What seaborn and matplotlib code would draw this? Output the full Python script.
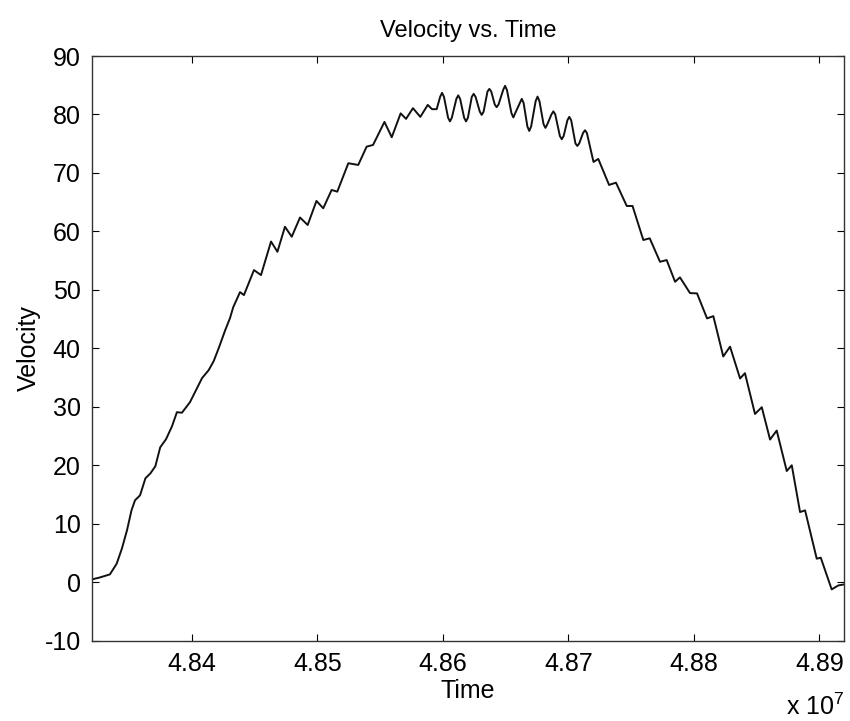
import numpy as np
import pandas as pd
import matplotlib
matplotlib.use("Agg")
import matplotlib.pyplot as plt
import seaborn as sns

# Time values in units of 1e7
time = [4.83203, 4.83267, 4.83346, 4.83400, 4.83442, 4.83482, 4.83518, 4.83546,
        4.83586, 4.83629, 4.83669, 4.83708, 4.83747, 4.83793, 4.83841, 4.83880,
        4.83920, 4.83984, 4.84040, 4.84080, 4.84133, 4.84173, 4.84213, 4.84265,
        4.84303, 4.84329, 4.84383, 4.84414, 4.84494, 4.84550, 4.84630, 4.84681,
        4.84741, 4.84795, 4.84861, 4.84922, 4.84992, 4.85046, 4.85113, 4.85158,
        4.85246, 4.85325, 4.85392, 4.85443, 4.85534, 4.85592, 4.85663, 4.85706,
        4.85761, 4.85820, 4.85879, 4.85913, 4.85950,
        4.85978, 4.85993, 4.86008, 4.86041, 4.86056, 4.86071,
        4.86107, 4.86122, 4.86137, 4.86169, 4.86184, 4.86199,
        4.86230, 4.86245, 4.86260, 4.86294, 4.86309, 4.86324,
        4.86355, 4.86370, 4.86385, 4.86413, 4.86428, 4.86443,
        4.86480, 4.86495, 4.86510, 4.86546, 4.86561, 4.86576,
        4.86613, 4.86628, 4.86643, 4.86673, 4.86688, 4.86703,
        4.86739, 4.86754, 4.86769, 4.86802, 4.86817, 4.86832,
        4.86865, 4.86880, 4.86895, 4.86932, 4.86947, 4.86962,
        4.86992, 4.87007, 4.87022, 4.87056, 4.87071, 4.87086,
        4.87117, 4.87132, 4.87147,
        4.87200, 4.87238, 4.87324, 4.87379, 4.87465, 4.87511, 4.87597, 4.87648,
        4.87730, 4.87783, 4.87850, 4.87889, 4.87969, 4.88025, 4.88105, 4.88155,
        4.88234, 4.88288, 4.88368, 4.88407, 4.88487, 4.88541, 4.88607, 4.88660,
        4.88740, 4.88780, 4.88846, 4.88886, 4.88979, 4.89011, 4.89098, 4.89151,
        4.89196]

velocity = [0.48, 0.82, 1.34, 3.17, 5.79, 8.87, 12.29, 14.01,
            14.86, 17.77, 18.63, 19.83, 23.08, 24.45, 26.68, 29.08,
            28.99, 30.79, 33.18, 34.90, 36.27, 37.81, 40.03, 43.12,
            45.17, 47.05, 49.62, 49.11, 53.39, 52.53, 58.27, 56.52,
            60.80, 59.09, 62.38, 61.10, 65.21, 63.96, 67.09, 66.80,
            71.66, 71.37, 74.50, 74.79, 78.73, 76.11, 80.19, 79.25,
            81.08, 79.59, 81.64, 80.91, 80.91,
            83.04, 83.70, 83.04, 79.45, 78.82, 79.45,
            82.67, 83.27, 82.67, 79.44, 78.82, 79.44,
            83.02, 83.53, 83.02, 80.47, 79.93, 80.47,
            83.92, 84.38, 83.92, 81.71, 81.25, 81.71,
            84.20, 84.90, 84.20, 80.23, 79.50, 80.23,
            81.97, 82.67, 81.97, 77.95, 77.19, 77.95,
            82.30, 83.06, 82.30, 78.33, 77.71, 78.33,
            80.02, 80.53, 80.02, 76.31, 75.77, 76.31,
            79.02, 79.59, 79.02, 75.05, 74.62, 75.05,
            76.85, 77.31, 76.85,
            71.88, 72.40, 67.95, 68.34, 64.35, 64.35, 58.53, 58.82,
            54.81, 55.10, 51.39, 52.14, 49.45, 49.40, 45.12, 45.51,
            38.61, 40.29, 34.85, 35.75, 28.78, 29.93, 24.40, 25.94,
            19.02, 20.00, 12.00, 12.29, 4.02, 4.20, -1.23, -0.55,
            -0.38]

x_ticks = [4.84, 4.85, 4.86, 4.87, 4.88, 4.89]
x_tick_labels = ["4.84", "4.85", "4.86", "4.87", "4.88", "4.89"]
y_ticks = [-10, 0, 10, 20, 30, 40, 50, 60, 70, 80, 90]

df = pd.DataFrame({"Time": time, "Velocity": velocity})

sns.set_theme(style="white")
plt.rcParams["font.family"] = ["Liberation Sans", "DejaVu Sans"]
plt.rcParams["mathtext.fontset"] = "custom"
plt.rcParams["mathtext.rm"] = "Liberation Sans"
plt.rcParams["axes.unicode_minus"] = False
plt.rcParams["text.color"] = "black"

fig = plt.figure(figsize=(8.5, 7.21), dpi=100)
ax = fig.add_axes([0.1082, 0.1114, 0.8847, 0.8109])

sns.lineplot(data=df, x="Time", y="Velocity", ax=ax, color="#111111",
             linewidth=1.4, estimator=None, sort=False)
for ln in ax.get_lines():
    ln.set_solid_joinstyle("round")

ax.set_xlim(time[0], time[-1])
ax.set_ylim(-10, 90)
ax.set_xticks(x_ticks)
ax.set_xticklabels(x_tick_labels)
ax.set_yticks(y_ticks)

ax.tick_params(axis="both", which="both", direction="in", length=5, width=0.8,
               top=True, right=True, bottom=True, left=True,
               labelsize=18, colors="black", pad=8)
for s in ax.spines.values():
    s.set_visible(True)
    s.set_color("#333333")
    s.set_linewidth(1.0)

ax.set_xlabel("Time", fontsize=18, labelpad=2, color="black")
ax.set_ylabel("Velocity", fontsize=18, labelpad=3, color="black")
ax.set_title("Velocity vs. Time", fontsize=17, pad=14, color="black")

fig.text(0.9929, 0.008, r"x 10$^{7}$", ha="right", va="baseline", fontsize=18,
         color="black")

fig.savefig("out.png", dpi=100, facecolor="white")
